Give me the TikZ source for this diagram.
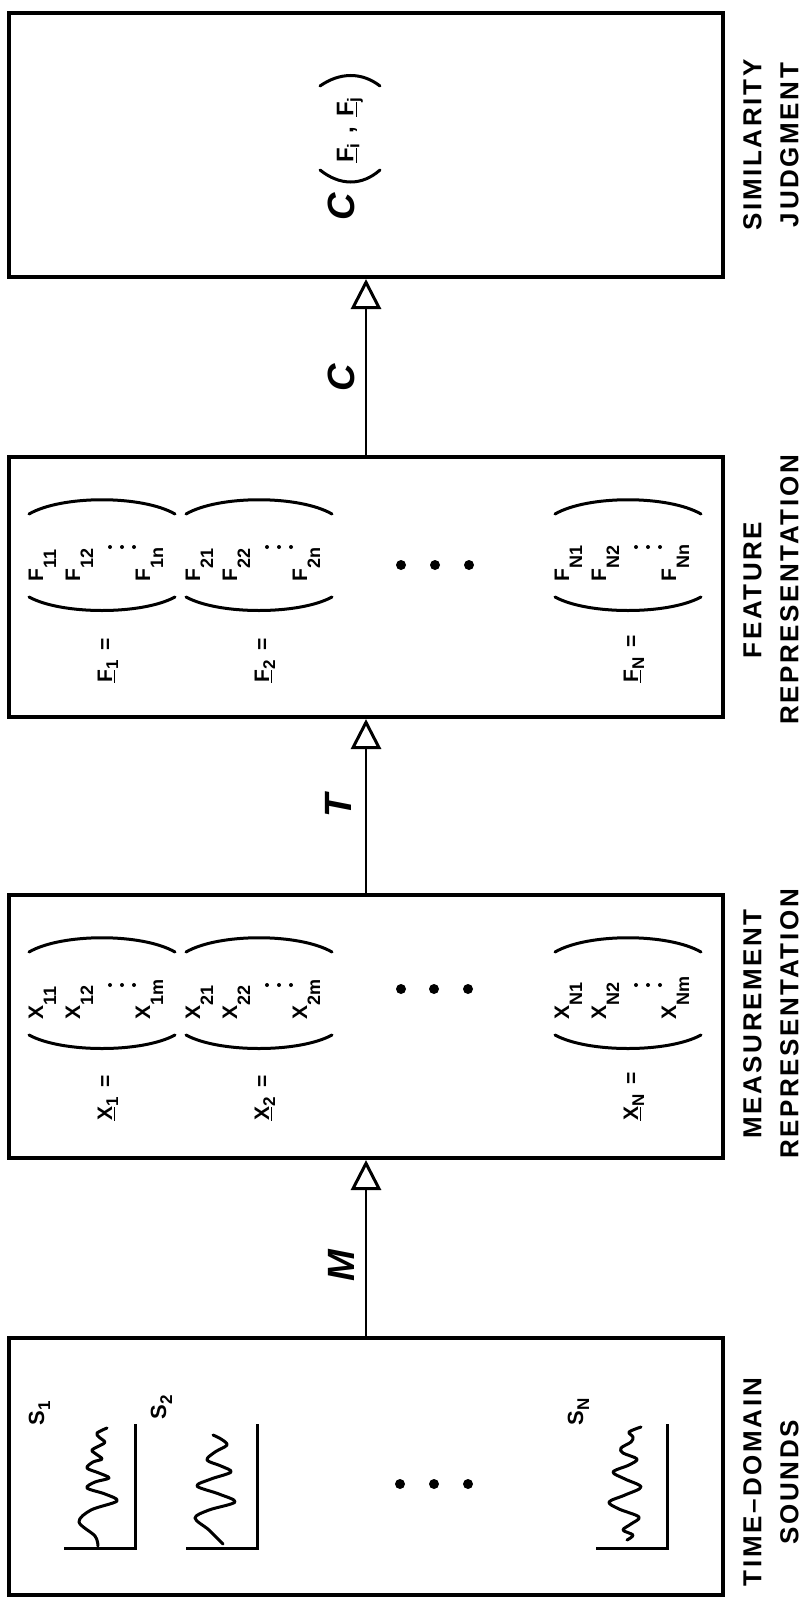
\documentclass[tikz,border=0pt]{standalone}
\usepackage{fontspec}
\setmainfont{Liberation Sans}
\newfontfamily\capfont[LetterSpace=10.0]{Liberation Sans}
\usetikzlibrary{arrows.meta,calc}
\newcommand\lowsub[1]{\raisebox{-6.5pt}{\fontsize{9}{10}\selectfont #1}}
\newcommand\midsub[1]{\raisebox{-3pt}{\fontsize{8.5}{10}\selectfont #1}}
\tikzset{
  box/.style={draw, line width=2pt, rectangle, inner sep=0pt, minimum width=357pt},
  conn/.style={line width=1.2pt, -{Triangle[open, length=15pt, width=15pt, line width=1.5pt]}},
  lbl/.style={rotate=90, font=\fontsize{19}{23}\selectfont\bfseries\itshape, inner sep=0pt},
  captxt/.style={rotate=90, align=center, font=\capfont\bfseries\fontsize{13}{18.5}\selectfont, inner sep=0pt},
  ent/.style={rotate=90, anchor=base west, font=\bfseries\fontsize{10.5}{13}\selectfont, inner sep=0pt},
  slbl/.style={rotate=90, anchor=base west, font=\bfseries\fontsize{11}{12}\selectfont, inner sep=0pt},
  bigdot/.style={fill, circle, inner sep=0pt, minimum size=5pt},
  smalldot/.style={fill, circle, inner sep=0pt, minimum size=2pt},
  wave/.style={line width=1.5pt, line cap=round, line join=round},
  axisline/.style={line width=1.5pt},
  paren/.style={line width=1.5pt, line cap=round},
}
\newcommand\vecblock[6]{%
  \draw[paren] ({#2-73},{#3+57}) .. controls ({#2-40},{#3+38}) and ({#2+40},{#3+38}) .. ({#2+73},{#3+57});
  \draw[paren] ({#2-73},{#3+140}) .. controls ({#2-40},{#3+158}) and ({#2+40},{#3+158}) .. ({#2+73},{#3+140});
  \node[ent] (#1a) at ({#2-59},{#3+125}) {#4\lowsub{#51}};
  \node[ent] (#1b) at ({#2-22},{#3+125}) {#4\lowsub{#52}};
  \node[ent] (#1c) at ({#2+48},{#3+125}) {#4\lowsub{#5#6}};
  \node[smalldot] (#1d1) at ({#2+8},{#3+90}) {};
  \node[smalldot] (#1d2) at ({#2+20},{#3+90}) {};
  \node[smalldot] (#1d3) at ({#2+32},{#3+90}) {};
  \node[ent] (#1l) at ({#2+10},{#3+226}) {\underline{#4}\midsub{#5}\hspace{5pt}=};
}
\newcommand\soundaxes[1]{%
  \draw[axisline] ($(#1)+(-71,0)$) -- (#1) -- ($(#1)+(0,-124)$);
}
\begin{document}
\begin{tikzpicture}[x=0.5pt,y=-0.5pt]
\fill[white] (0,0) rectangle (805,1600);
\useasboundingbox (0,0) rectangle (805,1600);

% boxes
\node[box, minimum height=128.5pt] (b1) at (366,1466.5) {};
\node[box, minimum height=131.5pt] (b2) at (366,1026.5) {};
\node[box, minimum height=130pt]   (b3) at (366,587) {};
\node[box, minimum height=132pt]   (b4) at (366,145) {};

% connectors
\draw[conn] (b1.north) -- (b2.south);
\draw[conn] (b2.north) -- (b3.south);
\draw[conn] (b3.north) -- (b4.south);
\node[lbl] (lM) at ($(b1.north)!0.40!(b2.south)+(-25,0)$) {M};
\node[lbl] (lT) at ($(b2.north)!0.50!(b3.south)+(-28,0)$) {T};
\node[lbl] (lC) at ($(b3.north)!0.44!(b4.south)+(-25,0)$) {C};

% captions
\node[captxt] (c1) at (771,1482) {TIME–DOMAIN\\SOUNDS};
\node[captxt] (c2) at (771,1024) {MEASUREMENT\\REPRESENTATION};
\node[captxt] (c3) at (771,590) {FEATURE\\REPRESENTATION};
\node[captxt] (c4) at (771,145) {SIMILARITY\\JUDGMENT};

% box 1: time-domain sounds
\coordinate (w1) at (135,1548);
\coordinate (w2) at (257,1548);
\coordinate (wN) at (667,1548);
\soundaxes{w1}
\soundaxes{w2}
\soundaxes{wN}
\begin{scope}[shift={(135,1548)}]
  \draw[wave] plot[smooth, tension=0.55] coordinates {(-37,-2) (-40,-12) (-56,-26) (-44,-38) (-18,-47) (-30,-54) (-48,-60) (-40,-66) (-26,-70) (-36,-75) (-48,-80) (-42,-86) (-33,-89) (-39,-94) (-43,-98) (-34,-103) (-30,-106) (-36,-111) (-38,-115) (-28,-120)};
\end{scope}
\begin{scope}[shift={(257,1548)}]
  \draw[wave] plot[smooth, tension=0.55] coordinates {(-34,-4) (-48,-18) (-62,-30) (-48,-38) (-22,-46) (-38,-54) (-60,-62) (-46,-69) (-26,-76) (-36,-82) (-50,-88) (-42,-96) (-30,-103) (-36,-109) (-44,-113)};
\end{scope}
\begin{scope}[shift={(667,1548)}]
  \draw[wave] plot[smooth, tension=0.55] coordinates {(-40,-8) (-34,-13) (-44,-18) (-36,-24) (-28,-31) (-48,-39) (-58,-46) (-42,-53) (-26,-61) (-42,-69) (-54,-76) (-38,-83) (-30,-89) (-44,-95) (-46,-100) (-36,-106) (-34,-111) (-38,-116) (-26,-121)};
\end{scope}
\node[slbl] (s1) at ($(w1)+(-91,-122)$) {S\midsub{1}};
\node[slbl] (s2) at ($(w2)+(-91,-128)$) {S\midsub{2}};
\node[slbl] (sN) at ($(wN)+(-84,-122)$) {S\midsub{N}};
\node[bigdot] (d1a) at (400,1484) {};
\node[bigdot] (d1b) at (434,1484) {};
\node[bigdot] (d1c) at (468,1484) {};

% box 2: measurement representation
\vecblock{m1}{102}{895}{X}{1}{m}
\vecblock{m2}{259}{895}{X}{2}{m}
\vecblock{mN}{628}{895}{X}{N}{m}
\node[bigdot] (d2a) at (401,989) {};
\node[bigdot] (d2b) at (434,989) {};
\node[bigdot] (d2c) at (468,989) {};

% box 3: feature representation
\vecblock{f1}{102}{457}{F}{1}{n}
\vecblock{f2}{259}{457}{F}{2}{n}
\vecblock{fN}{628}{457}{F}{N}{n}
\node[bigdot] (d3a) at (401,565) {};
\node[bigdot] (d3b) at (435,565) {};
\node[bigdot] (d3c) at (469,565) {};

% box 4: similarity judgment
\node[lbl] (cc) at (341,207) {C};
\draw[paren] (320,170) .. controls (340,186) and (362,186) .. (380,170);
\draw[paren] (320,86) .. controls (340,72) and (362,72) .. (380,86);
\node[rotate=90, font=\bfseries\fontsize{12}{14}\selectfont, inner sep=0pt] (cfij) at (350,130)
  {\underline{F}\midsub{i}\hspace{5pt},\hspace{5pt}\underline{F}\midsub{j}};
\end{tikzpicture}
\end{document}
